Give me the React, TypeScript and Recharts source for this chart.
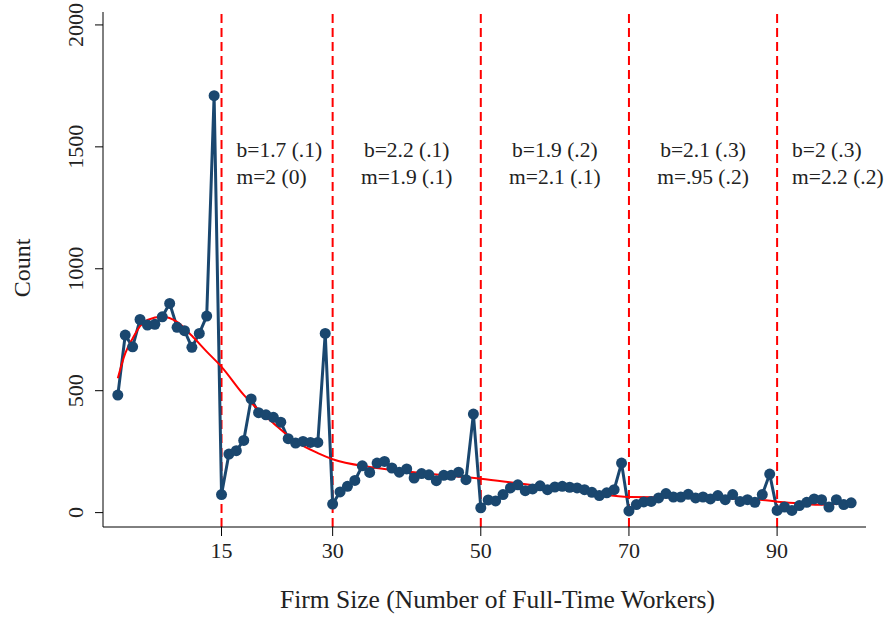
import React from 'react';
import {
  ComposedChart,
  Line,
  XAxis,
  YAxis,
  ReferenceLine,
  ReferenceArea,
  Label,
} from 'recharts';

// Counts by firm size (1..100 full-time workers)
const counts = [
  482, 728, 680, 792, 769, 772, 803, 858, 760, 746,
  678, 735, 806, 1710, 74, 240, 254, 296, 466, 410,
  401, 391, 371, 303, 285, 292, 288, 288, 735, 35,
  85, 108, 132, 192, 165, 203, 210, 183, 166, 179,
  142, 160, 155, 131, 153, 153, 166, 135, 404, 20,
  52, 48, 74, 101, 114, 90, 97, 110, 94, 105,
  108, 104, 101, 94, 83, 70, 81, 94, 203, 7,
  33, 44, 46, 60, 78, 64, 64, 75, 60, 64,
  56, 70, 53, 74, 46, 53, 42, 74, 158, 9,
  23, 9, 29, 42, 56, 53, 23, 53, 33, 40,
];

// smoothed fit
const fitSizes = [1, 2, 3, 4, 5, 7, 9, 11, 13, 15, 18, 20, 22, 25, 28, 30, 35, 40, 45, 50, 55, 60, 65, 70, 75, 80, 85, 88, 90, 93, 96, 98, 100];
const fitValues = [551, 653, 714, 765, 790, 803, 782, 725, 660, 598, 483, 421, 367, 292, 244, 219, 187, 169, 153, 139, 120, 101, 82, 64, 63, 62, 56, 52, 45, 38, 32, 36, 52];

const cutoffs = [15, 30, 50, 70, 90];
const bLabels = ['b=1.7 (.1)', 'b=2.2 (.1)', 'b=1.9 (.2)', 'b=2.1 (.3)', 'b=2 (.3)'];
const mLabels = ['m=2 (0)', 'm=1.9 (.1)', 'm=2.1 (.1)', 'm=.95 (.2)', 'm=2.2 (.2)'];

const yTicks = [0, 500, 1000, 1500, 2000];

const data = counts.map((c, i) => {
  const size = i + 1;
  const k = fitSizes.indexOf(size);
  return { size, count: c, fit: k >= 0 ? fitValues[k] : null };
});

const FONT = '"Liberation Serif", "Times New Roman", serif';
const NAVY = '#1a476f';

const YTick = (props: any) => {
  const { y, payload } = props;
  const cx = 75.5;
  return (
    <text
      x={cx}
      y={y}
      transform={`rotate(-90 ${cx} ${y})`}
      textAnchor="middle"
      dominantBaseline="central"
      fontFamily={FONT}
      fontSize={22}
      fill="#222"
    >
      {payload.value}
    </text>
  );
};

const XTick = (props: any) => {
  const { x, payload } = props;
  return (
    <text x={x} y={550} textAnchor="middle" dominantBaseline="central" fontFamily={FONT} fontSize={22} fill="#222">
      {payload.value}
    </text>
  );
};

const App = () => {
  return (
    <div style={{ position: 'absolute', left: 0, top: 0, background: '#fff' }}>
      <ComposedChart
        width={886}
        height={622}
        data={data}
        margin={{ top: 12, right: 20, bottom: 0, left: 0 }}
      >
        <XAxis
          type="number"
          dataKey="size"
          domain={[-1, 102]}
          ticks={cutoffs}
          allowDataOverflow
          height={95}
          stroke="#000"
          tickSize={9}
          tick={<XTick />}
        >
          <Label
            content={(p: any) => (
              <text
                x={p.viewBox.x + p.viewBox.width / 2 + 13}
                y={608}
                textAnchor="middle"
                fontFamily={FONT}
                fontSize={25.5}
                fill="#222"
              >
                Firm Size (Number of Full-Time Workers)
              </text>
            )}
          />
        </XAxis>
        <YAxis
          type="number"
          domain={[-59, 2053]}
          ticks={yTicks}
          allowDataOverflow
          width={103}
          stroke="#000"
          tickSize={8}
          tick={<YTick />}
        >
          <Label
            content={() => (
              <text
                x={22}
                y={268}
                transform="rotate(-90 22 268)"
                textAnchor="middle"
                dominantBaseline="central"
                fontFamily={FONT}
                fontSize={24}
                fill="#222"
              >
                Count
              </text>
            )}
          />
        </YAxis>

        {cutoffs.map((c, i) => {
          const next = i < cutoffs.length - 1 ? cutoffs[i + 1] : 102;
          const centered = i > 0 && i < cutoffs.length - 1;
          return (
            <ReferenceArea
              key={'a' + c}
              x1={c}
              x2={next}
              fill="none"
              fillOpacity={0}
              stroke="none"
              label={(p: any) => {
                const vb = p.viewBox;
                const tx = centered ? vb.x + vb.width / 2 : vb.x + 15;
                const anchor = centered ? 'middle' : 'start';
                return (
                  <g fontFamily={FONT} fontSize={21.5} fill="#222">
                    <text x={tx} y={vb.y + 145} textAnchor={anchor}>{bLabels[i]}</text>
                    <text x={tx} y={vb.y + 172} textAnchor={anchor}>{mLabels[i]}</text>
                  </g>
                );
              }}
            />
          );
        })}

        {cutoffs.map((c) => (
          <ReferenceLine key={'l' + c} x={c} stroke="#ff0000" strokeWidth={2} strokeDasharray="9 5" />
        ))}

        <Line
          type="linear"
          dataKey="count"
          stroke={NAVY}
          strokeWidth={3}
          dot={{ r: 5.5, fill: NAVY, stroke: 'none' }}
          isAnimationActive={false}
        />
        <Line
          type="monotone"
          dataKey="fit"
          stroke="#ff0000"
          strokeWidth={2}
          dot={false}
          connectNulls
          isAnimationActive={false}
        />
      </ComposedChart>
    </div>
  );
};

export default App;
